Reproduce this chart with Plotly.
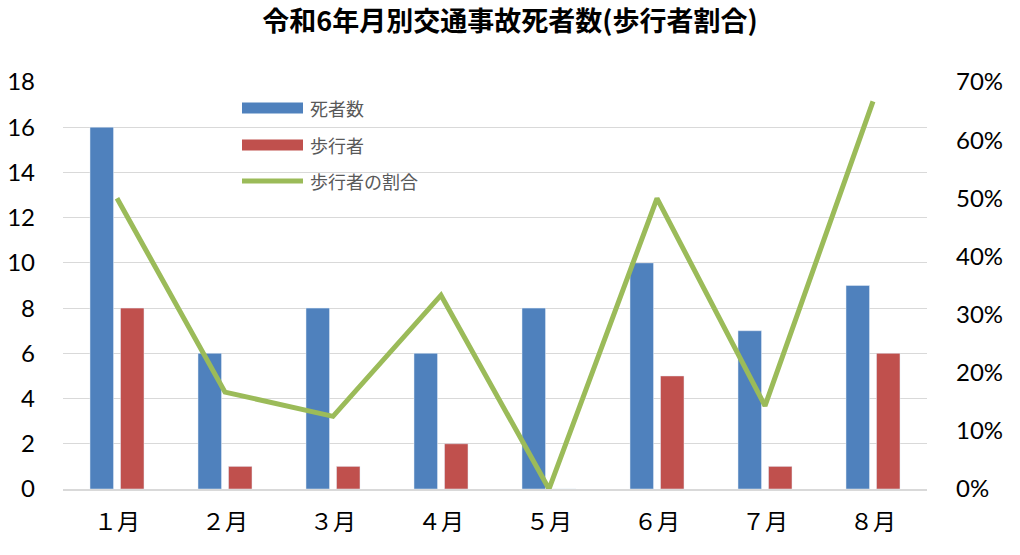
import plotly.graph_objects as go

months = ["１月", "２月", "３月", "４月", "５月", "６月", "７月", "８月"]
deaths = [16, 6, 8, 6, 8, 10, 7, 9]
pedestrians = [8, 1, 1, 2, 0, 5, 1, 6]
ratio = [0.5, 1/6, 0.125, 1/3, 0.0, 0.5, 1/7, 2/3]

names = ["死者数", "歩行者", "歩行者の割合"]
colors = ["#4F81BD", "#C0504D", "#9BBB59"]

fig = go.Figure()
fig.add_trace(go.Bar(x=months, y=deaths, name=names[0], marker_color=colors[0]))
fig.add_trace(go.Bar(x=months, y=pedestrians, name=names[1], marker_color=colors[1]))
fig.add_trace(go.Scatter(x=months, y=ratio, name=names[2], yaxis="y2",
                         mode="lines", line=dict(color=colors[2], width=5)))

# plot area in pixels
L, R, T, B = 63, 927, 82, 489
W, H = R - L, B - T


def px(x):
    return (x - L) / W


def py(y):
    return (B - y) / H


# manual legend (wide swatches like the original)
leg_y = [108, 145, 181]
for i, (nm, c) in enumerate(zip(names, colors)):
    if i < 2:
        fig.add_shape(type="rect", xref="paper", yref="paper",
                      x0=px(242), x1=px(303), y0=py(leg_y[i] - 5.5), y1=py(leg_y[i] + 5.5),
                      fillcolor=c, line=dict(width=0), layer="above")
    else:
        fig.add_shape(type="line", xref="paper", yref="paper",
                      x0=px(242), x1=px(303), y0=py(leg_y[i]), y1=py(leg_y[i]),
                      line=dict(color=c, width=5), layer="above")
    fig.add_annotation(text=nm, xref="paper", yref="paper", x=px(308), y=py(leg_y[i]),
                       xanchor="left", yanchor="middle", showarrow=False,
                       font=dict(family="Noto Sans CJK JP", size=18, color="#595959"))

tickfont = dict(family="Lato, Open Sans, sans-serif", size=24, color="#000000")
fig.update_layout(
    width=1020, height=555,
    margin=dict(l=L, r=1020 - R, t=T, b=555 - B, autoexpand=False),
    paper_bgcolor="white", plot_bgcolor="white",
    title=dict(text="<b>令和6年月別交通事故死者数(歩行者割合)</b>", x=0.5, xanchor="center",
               y=1 - 22 / 555, yanchor="middle",
               font=dict(family="Noto Sans CJK JP", size=27, color="#000000")),
    barmode="group", bargap=0.435, bargroupgap=0.23,
    xaxis=dict(showgrid=False, showline=True, linecolor="#D9D9D9", linewidth=2,
               tickfont=dict(family="Noto Sans CJK JP", size=23, color="#000000"),
               ticks="", ticklabelstandoff=11, automargin=False),
    yaxis=dict(range=[0, 18], dtick=2, showgrid=True, gridcolor="#D9D9D9", gridwidth=1,
               zeroline=False, tickfont=tickfont, ticklabelstandoff=27, showline=False,
               automargin=False),
    yaxis2=dict(range=[0, 0.7], dtick=0.1, tickformat=".0%", overlaying="y", side="right",
                showgrid=False, zeroline=False, tickfont=tickfont, ticklabelstandoff=28,
                automargin=False),
    showlegend=False,
)
fig.write_html("out.html")
